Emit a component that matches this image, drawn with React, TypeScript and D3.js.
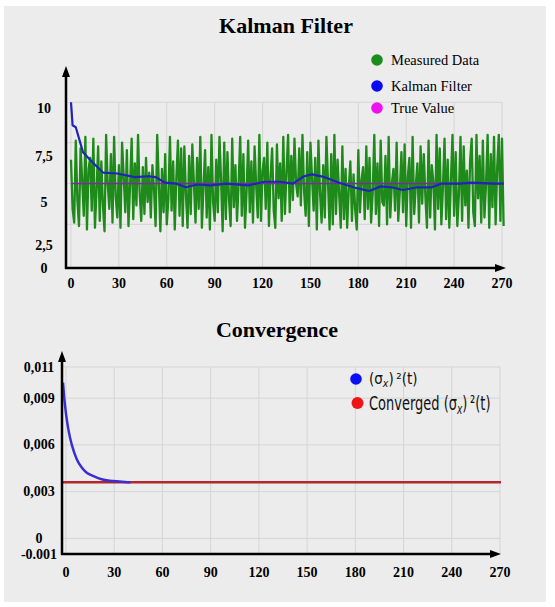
import React, { useEffect, useRef } from 'react';
import * as d3 from 'd3';

// x ticks shared by both panels
const xTicks = [0, 30, 60, 90, 120, 150, 180, 210, 240, 270];

// ---- Kalman Filter panel ----
const topYTicks = [0, 2.5, 5, 7.5, 10];
const topYLabels = ['0', '2,5', '5', '7,5', '10'];
const topGridValues = [3.7, 6, 8.2, 10.3];
const trueValue = 6;

const measuredStep = 1;
const measured = [
  7.3, 4.6, 3.8, 8.3, 5.1, 3.6, 7.9, 6.2, 4.2, 8.5, 3.4, 6.8, 7.4, 4.5, 8.4, 3.5, 5.6, 8.0, 3.9, 7.2, 4.8, 3.3, 8.6, 6.0, 4.6, 7.6, 3.8, 8.5, 5.3, 4.1, 7.0, 3.5, 8.2, 6.4,
  4.4, 7.8, 3.6, 5.9, 8.4, 4.0, 7.1, 4.8, 8.6, 5.5, 3.9, 6.9, 4.3, 7.4, 5.0, 6.6, 4.1, 7.0, 5.7, 3.6, 8.6, 6.1, 3.3, 6.8, 4.4, 7.6, 3.7, 5.2, 8.5, 4.5, 7.2, 3.4, 6.3, 8.3,
  4.2, 7.9, 3.6, 8.0, 5.4, 3.5, 7.5, 4.3, 8.1, 6.0, 3.8, 7.4, 4.6, 8.5, 3.5, 5.8, 7.8, 4.1, 6.9, 3.4, 8.6, 5.0, 3.9, 7.3, 4.4, 8.5, 6.2, 3.3, 8.2, 4.0, 7.7, 5.1, 3.6, 8.4,
  4.7, 7.0, 3.9, 6.0, 8.5, 4.2, 7.6, 3.5, 5.6, 8.3, 4.4, 7.2, 3.8, 8.0, 5.9, 4.1, 8.6, 3.9, 6.7, 7.4, 4.6, 8.2, 3.6, 6.4, 7.9, 4.5, 3.5, 8.1, 5.2, 7.1, 3.9, 8.5, 4.3, 6.6,
  8.6, 4.4, 7.5, 5.1, 8.4, 6.0, 5.3, 7.9, 4.8, 8.6, 5.6, 4.2, 7.7, 3.6, 8.2, 6.3, 4.5, 7.4, 3.4, 8.3, 5.5, 3.8, 7.0, 4.1, 8.5, 6.1, 3.4, 7.6, 3.7, 8.6, 4.3, 7.3, 5.4, 3.5,
  8.0, 4.0, 6.8, 3.5, 5.7, 7.2, 3.9, 6.5, 4.6, 3.4, 7.8, 4.4, 6.2, 6.9, 4.0, 8.0, 4.6, 7.4, 3.8, 5.5, 8.6, 4.3, 7.1, 3.6, 8.3, 5.0, 4.8, 7.5, 3.7, 8.5, 4.1, 6.0, 6.8, 4.5,
  8.2, 3.9, 5.6, 7.7, 4.4, 8.1, 3.6, 6.4, 7.4, 3.5, 8.5, 4.3, 5.9, 7.1, 3.8, 8.0, 4.9, 7.6, 5.3, 3.5, 8.3, 4.1, 7.0, 6.1, 3.4, 8.6, 4.6, 7.9, 3.7, 5.8, 8.4, 4.0, 7.3, 3.5,
  6.2, 8.6, 4.2, 7.7, 3.6, 5.4, 8.5, 3.9, 8.0, 4.8, 6.7, 3.5, 7.2, 8.4, 4.4, 3.6, 8.6, 5.2, 7.5, 3.8, 8.3, 4.1, 6.0, 8.6, 3.5, 7.6, 4.7, 8.5, 3.7, 6.9, 8.6, 3.9, 8.4, 3.6,
];

const kalmanT = [0, 1, 3, 7.5, 13, 20, 29, 40, 48.5, 53, 59, 66, 72, 79, 88, 97, 111, 121, 131, 139, 146, 151, 159, 168, 179, 187, 194, 201, 208, 217, 226, 232, 243, 251, 265, 271];
const kalmanV = [10.3, 9.1, 9.0, 7.7, 7.2, 6.6, 6.55, 6.35, 6.4, 6.35, 6.05, 6.0, 5.8, 5.95, 5.9, 6.0, 5.9, 6.1, 6.1, 6.0, 6.4, 6.5, 6.35, 6.05, 5.75, 5.6, 5.85, 5.8, 5.65, 5.8, 5.8, 6.0, 6.0, 6.05, 6.0, 6.0];

const topLegend = ['Measured Data', 'Kalman Filter', 'True Value'];

// ---- Convergence panel ----
const bottomYTicks = [-0.001, 0, 0.003, 0.006, 0.009, 0.011];
const bottomYLabels = ['-0.001', '0', '0,003', '0,006', '0,009', '0,011'];
const sigmaT = [0, 1, 2, 3.5, 5.5, 8.5, 12, 15, 19, 24, 29, 35, 42];
const sigmaV = [0.0100, 0.0088, 0.0079, 0.0069, 0.0060, 0.0051, 0.0045, 0.0042, 0.0040, 0.0038, 0.0037, 0.00365, 0.0036];
const convergedValue = 0.0036;

const SERIF = '"Liberation Serif", "Times New Roman", serif';
const NARROW = '"DejaVu Sans", sans-serif';

function App() {
  const ref = useRef<SVGSVGElement>(null);

  useEffect(() => {
    const svg = d3.select(ref.current);
    svg.selectAll('*').remove();

    // background
    svg.append('rect').attr('width', 555).attr('height', 607).attr('fill', '#ffffff');
    svg.append('rect').attr('x', 4).attr('y', 6).attr('width', 542).attr('height', 596).attr('fill', '#ececec');

    const arrow = (x: number, y: number, dir: 'up' | 'right') => {
      const p = dir === 'up'
        ? `M${x},${y} L${x - 4},${y + 11} L${x + 4},${y + 11} Z`
        : `M${x},${y} L${x - 11},${y - 4} L${x - 11},${y + 4} Z`;
      svg.append('path').attr('d', p).attr('fill', '#000');
    };

    // ================= Kalman Filter =================
    const xTop = d3.scaleLinear().domain([0, 270]).range([71, 502]);
    const yTop = d3.scaleLinear().domain(topYTicks).range([268, 245, 202, 156, 108]);
    const topAxisX = 66;
    const topAxisY = 268;

    svg.append('text')
      .attr('x', 286).attr('y', 33)
      .attr('text-anchor', 'middle')
      .attr('font-family', SERIF).attr('font-weight', 'bold').attr('font-size', 22)
      .text('Kalman Filter');

    const gTop = svg.append('g');
    // grid
    gTop.selectAll('line.vg').data(xTicks).enter().append('line')
      .attr('x1', d => xTop(d)).attr('x2', d => xTop(d))
      .attr('y1', yTop(10.3)).attr('y2', topAxisY)
      .attr('stroke', '#d5d5d5').attr('stroke-width', 1);
    gTop.selectAll('line.hg').data(topGridValues).enter().append('line')
      .attr('x1', topAxisX).attr('x2', xTop(270))
      .attr('y1', d => yTop(d)).attr('y2', d => yTop(d))
      .attr('stroke', '#d5d5d5').attr('stroke-width', 1);

    // measured data
    const mLine = d3.line<number>()
      .x((_, i) => xTop(i * measuredStep))
      .y(d => yTop(d));
    gTop.append('path').datum(measured)
      .attr('fill', 'none').attr('stroke', '#1e8a1a').attr('stroke-width', 2.3)
      .attr('stroke-linejoin', 'round')
      .attr('d', mLine);

    // true value
    gTop.append('line')
      .attr('x1', xTop(0)).attr('x2', xTop((measured.length - 1) * measuredStep))
      .attr('y1', yTop(trueValue)).attr('y2', yTop(trueValue))
      .attr('stroke', '#7a2c9c').attr('stroke-width', 1.5);

    // kalman
    const kLine = d3.line<number>()
      .x((_, i) => xTop(kalmanT[i]))
      .y(d => yTop(d));
    gTop.append('path').datum(kalmanV)
      .attr('fill', 'none').attr('stroke', '#2323b8').attr('stroke-width', 2.2)
      .attr('stroke-linejoin', 'round')
      .attr('d', kLine);

    // axes
    svg.append('line').attr('x1', topAxisX).attr('x2', topAxisX).attr('y1', topAxisY + 1).attr('y2', 72)
      .attr('stroke', '#000').attr('stroke-width', 2.5);
    svg.append('line').attr('x1', topAxisX - 1).attr('x2', 498).attr('y1', topAxisY).attr('y2', topAxisY)
      .attr('stroke', '#000').attr('stroke-width', 2.5);
    arrow(topAxisX, 66, 'up');
    arrow(506, topAxisY, 'right');

    svg.selectAll('text.ty').data(topYTicks).enter().append('text')
      .attr('x', 44).attr('y', d => yTop(d))
      .attr('text-anchor', 'middle').attr('dominant-baseline', 'central')
      .attr('font-family', SERIF).attr('font-weight', 'bold').attr('font-size', 14)
      .text((_, i) => topYLabels[i]);
    svg.selectAll('text.tx').data(xTicks).enter().append('text')
      .attr('x', d => xTop(d)).attr('y', 283)
      .attr('text-anchor', 'middle').attr('dominant-baseline', 'central')
      .attr('font-family', SERIF).attr('font-weight', 'bold').attr('font-size', 14)
      .text(d => String(d));

    // legend
    const topLegendColors = ['#1c8c1c', '#0a0af0', '#ee10ee'];
    const topLegendY = [60, 86, 108];
    topLegend.forEach((label, i) => {
      svg.append('circle').attr('cx', 377).attr('cy', topLegendY[i]).attr('r', 5.8).attr('fill', topLegendColors[i]);
      svg.append('text')
        .attr('x', 391).attr('y', topLegendY[i] + 5)
        .attr('font-family', SERIF).attr('font-size', 14.5)
        .text(label);
    });

    // ================= Convergence =================
    const xBot = d3.scaleLinear().domain([0, 270]).range([66, 500]);
    const yBot = d3.scaleLinear().domain([-0.001, 0.011]).range([554, 367]);
    const botAxisX = 62;
    const botAxisY = 554;

    svg.append('text')
      .attr('x', 277).attr('y', 337)
      .attr('text-anchor', 'middle')
      .attr('font-family', SERIF).attr('font-weight', 'bold').attr('font-size', 22)
      .text('Convergence');

    const gBot = svg.append('g');
    gBot.selectAll('line.vg').data(xTicks).enter().append('line')
      .attr('x1', d => xBot(d)).attr('x2', d => xBot(d))
      .attr('y1', yBot(0.011)).attr('y2', botAxisY)
      .attr('stroke', '#d5d5d5').attr('stroke-width', 1);
    gBot.selectAll('line.hg').data(bottomYTicks.filter(d => d > -0.001)).enter().append('line')
      .attr('x1', botAxisX).attr('x2', xBot(270))
      .attr('y1', d => yBot(d)).attr('y2', d => yBot(d))
      .attr('stroke', '#d5d5d5').attr('stroke-width', 1);

    gBot.append('line')
      .attr('x1', botAxisX + 1).attr('x2', xBot(270) + 1)
      .attr('y1', yBot(convergedValue)).attr('y2', yBot(convergedValue))
      .attr('stroke', '#b3292b').attr('stroke-width', 2.5);

    const sLine = d3.line<number>()
      .x((_, i) => xBot(sigmaT[i]) - 3)
      .y(d => yBot(d))
      .curve(d3.curveMonotoneX);
    gBot.append('path').datum(sigmaV)
      .attr('fill', 'none').attr('stroke', '#3a2ed2').attr('stroke-width', 2.5)
      .attr('d', sLine);

    svg.append('line').attr('x1', botAxisX).attr('x2', botAxisX).attr('y1', botAxisY + 1).attr('y2', 357)
      .attr('stroke', '#000').attr('stroke-width', 2.5);
    svg.append('line').attr('x1', botAxisX - 1).attr('x2', 494).attr('y1', botAxisY).attr('y2', botAxisY)
      .attr('stroke', '#000').attr('stroke-width', 2.5);
    arrow(botAxisX, 351, 'up');
    arrow(501, botAxisY, 'right');

    svg.selectAll('text.by').data(bottomYTicks).enter().append('text')
      .attr('x', 39).attr('y', d => yBot(d))
      .attr('text-anchor', 'middle').attr('dominant-baseline', 'central')
      .attr('font-family', SERIF).attr('font-weight', 'bold').attr('font-size', 14)
      .text((_, i) => bottomYLabels[i]);
    svg.selectAll('text.bx').data(xTicks).enter().append('text')
      .attr('x', d => xBot(d)).attr('y', 572)
      .attr('text-anchor', 'middle').attr('dominant-baseline', 'central')
      .attr('font-family', SERIF).attr('font-weight', 'bold').attr('font-size', 14)
      .text(d => String(d));

    // legend (condensed sans, squeezed horizontally)
    const sigmaLabel = (x: number, y: number, size: number, squeeze: number, prefix: string) => {
      const t = svg.append('text').attr('x', 0).attr('y', 0)
        .attr('transform', `translate(${x},${y}) scale(${squeeze},1)`)
        .attr('font-family', NARROW).attr('font-size', size).attr('fill', '#111');
      t.append('tspan').text(prefix + '(σ');
      t.append('tspan').attr('font-style', 'italic').attr('font-size', size * 0.7).attr('dy', size * 0.2).text('x');
      t.append('tspan').attr('dy', -size * 0.2).text(')\u2009\u00b2(t)');
    };
    svg.append('circle').attr('cx', 356).attr('cy', 379).attr('r', 5.8).attr('fill', '#0a10f5');
    sigmaLabel(369, 384, 15, 0.9, '');
    svg.append('circle').attr('cx', 357.5).attr('cy', 403).attr('r', 6).attr('fill', '#f01515');
    sigmaLabel(369, 410, 20, 0.65, 'Converged ');
  }, []);

  return (
    <svg ref={ref} width={555} height={607}
      style={{ position: 'absolute', left: 0, top: 0, display: 'block' }} />
  );
}

export default App;
